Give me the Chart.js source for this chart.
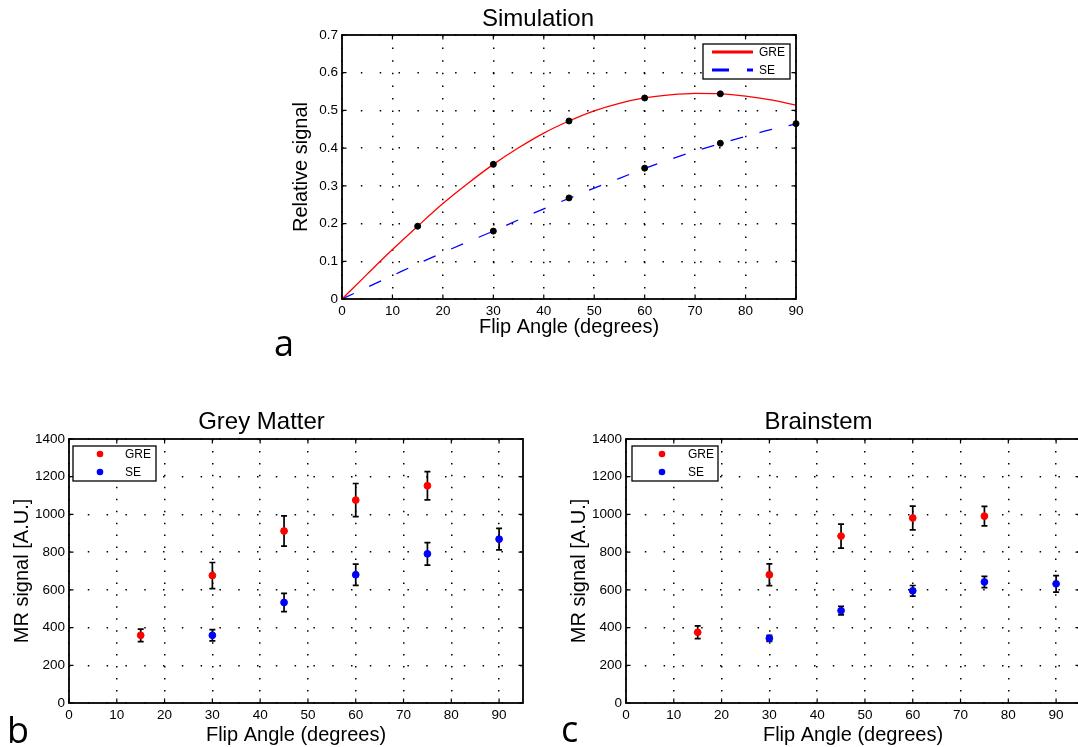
<!DOCTYPE html>
<html><head><meta charset="utf-8">
<script src="https://cdn.jsdelivr.net/npm/chart.js@4.4.1/dist/chart.umd.min.js"></script>
<style>
html,body{margin:0;padding:0;background:#fff;overflow:hidden;}
#wrap{position:relative;width:1078px;height:747px;overflow:hidden;background:#fff;}
canvas{position:absolute;}
.lbl{position:absolute;font-family:"Open Sans",sans-serif;font-size:36px;line-height:36px;color:#000;}
</style></head><body>
<div id="wrap">
<canvas id="cSim" width="536" height="345" style="left:280px;top:0px"></canvas>
<canvas id="cGM" width="543" height="360" style="left:0px;top:390px"></canvas>
<canvas id="cBS" width="543" height="360" style="left:557px;top:390px"></canvas>
<div class="lbl" style="left:274px;top:325px">a</div>
<div class="lbl" style="left:7px;top:712px">b</div>
<div class="lbl" style="left:561px;top:711px">c</div>
</div>
<script>
// ---------------- DATA ----------------
// Simulation curves (read every 5 degrees)
const simAngles = [0,5,10,15,20,25,30,35,40,45,50,55,60,65,70,75,80,85,90];
const simGRE    = [0,0.066,0.131,0.193,0.253,0.307,0.357,0.401,0.440,0.472,0.499,0.519,0.533,0.541,0.545,0.544,0.538,0.528,0.514];
const simSE     = [0,0.031,0.062,0.093,0.123,0.152,0.180,0.210,0.239,0.267,0.294,0.320,0.346,0.370,0.392,0.412,0.431,0.449,0.464];
// Simulation markers
const simMarkAnglesGRE = [15,30,45,60,75];
const simMarkGRE       = [0.193,0.357,0.472,0.533,0.544];
const simMarkAnglesSE  = [30,45,60,75,90];
const simMarkSE        = [0.180,0.268,0.347,0.413,0.465];

// Grey Matter
const gmAnglesGRE = [15,30,45,60,75];
const gmGRE       = [359,676,912,1076,1152];
const gmGREerr    = [33,69,80,88,75];
const gmAnglesSE  = [30,45,60,75,90];
const gmSE        = [359,533,680,791,869];
const gmSEerr     = [30,48,56,60,57];

// Brainstem
const bsAnglesGRE = [15,30,45,60,75];
const bsGRE       = [375,680,885,981,991];
const bsGREerr    = [34,58,64,63,52];
const bsAnglesSE  = [30,45,60,75,90];
const bsSE        = [343,490,595,642,632];
const bsSEerr     = [16,23,28,30,44];

// Tick values / labels
const simXTicks = [0,10,20,30,40,50,60,70,80,90];
const simXLabels = ['0','10','20','30','40','50','60','70','80','90'];
const simYTicks = [0,0.1,0.2,0.3,0.4,0.5,0.6,0.7];
const simYLabels = ['0','0.1','0.2','0.3','0.4','0.5','0.6','0.7'];
const mrXTicks = [0,10,20,30,40,50,60,70,80,90];
const mrXLabels = ['0','10','20','30','40','50','60','70','80','90'];
const mrYTicks = [0,200,400,600,800,1000,1200,1400];
const mrYLabels = ['0','200','400','600','800','1000','1200','1400'];

const seriesNames = ['GRE','SE'];

// ---------------- HELPERS ----------------
const FONT = '"Liberation Sans", Arial, Helvetica, sans-serif';
Chart.defaults.color = '#000';
Chart.defaults.font.family = FONT;

const pts = (xs, ys) => xs.map((x, i) => ({x: x, y: ys[i]}));

const framePlugin = {
  id: 'frame',
  beforeDatasetsDraw(chart) {
    const ctx = chart.ctx, xs = chart.scales.x, ys = chart.scales.y;
    chart.data.datasets.forEach(ds => {
      if (!ds.errors) return;
      ctx.save();
      ctx.strokeStyle = '#000';
      ctx.lineWidth = 1.7;
      ds.data.forEach((p, j) => {
        const e = ds.errors[j];
        const x = xs.getPixelForValue(p.x);
        const yt = ys.getPixelForValue(p.y + e);
        const yb = ys.getPixelForValue(p.y - e);
        ctx.beginPath();
        ctx.moveTo(x, yt); ctx.lineTo(x, yb);
        ctx.moveTo(x - 3, yt); ctx.lineTo(x + 3, yt);
        ctx.moveTo(x - 3, yb); ctx.lineTo(x + 3, yb);
        ctx.stroke();
      });
      ctx.restore();
    });
  },
  afterDraw(chart, args, opts) {
    const ctx = chart.ctx, a = chart.chartArea;
    const xs = chart.scales.x, ys = chart.scales.y;
    ctx.save();
    ctx.strokeStyle = '#000';
    ctx.lineWidth = 1.2;
    ctx.beginPath();
    xs.ticks.forEach(t => {
      const x = xs.getPixelForValue(t.value);
      ctx.moveTo(x, a.bottom); ctx.lineTo(x, a.bottom - 4.5);
      ctx.moveTo(x, a.top); ctx.lineTo(x, a.top + 4.5);
    });
    ys.ticks.forEach(t => {
      const y = ys.getPixelForValue(t.value);
      ctx.moveTo(a.left, y); ctx.lineTo(a.left + 4.5, y);
      ctx.moveTo(a.right, y); ctx.lineTo(a.right - 4.5, y);
    });
    ctx.stroke();
    ctx.lineWidth = 1.8;
    ctx.strokeRect(a.left, a.top, a.right - a.left, a.bottom - a.top);

    // legend box
    const L = opts.legend;
    if (L) {
      const bx = L.fromRight ? a.right - L.dx : a.left + L.dx;
      const by = a.top + L.dy;
      ctx.fillStyle = '#fff';
      ctx.fillRect(bx, by, L.w, L.h);
      ctx.lineWidth = 1.3;
      ctx.strokeStyle = '#000';
      ctx.strokeRect(bx, by, L.w, L.h);
      ctx.font = '12px ' + FONT;
      ctx.textBaseline = 'middle';
      ctx.textAlign = 'left';
      L.items.forEach((it, i) => {
        const y = by + L.rowY[i];
        if (it.kind === 'dot') {
          ctx.fillStyle = it.color;
          ctx.beginPath();
          ctx.arc(bx + L.symX, y, 3.3, 0, Math.PI * 2);
          ctx.fill();
        } else {
          ctx.strokeStyle = it.color;
          ctx.lineWidth = 3;
          ctx.setLineDash(it.dash || []);
          ctx.beginPath();
          ctx.moveTo(bx + L.symX, y);
          ctx.lineTo(bx + L.symX2, y);
          ctx.stroke();
          ctx.setLineDash([]);
        }
        ctx.fillStyle = '#000';
        ctx.fillText(it.label, bx + L.textX, y + 0.5);
      });
    }
    ctx.restore();
  }
};
Chart.register(framePlugin);

function axisX(min, max, tickVals, tickLabels, fitH, titlePadBottom, dashPeriod) {
  return {
    type: 'linear', min: min, max: max,
    afterBuildTicks: s => { s.ticks = tickVals.map(v => ({value: v})); },
    afterFit: s => { s.height = fitH; },
    ticks: { callback: (v, i) => tickLabels[i], font: {size: 13.5, family: FONT}, color: '#000', padding: 4, maxRotation: 0, autoSkip: false },
    grid: { color: '#000', lineWidth: 1.5, drawTicks: false },
    border: { display: false, dash: [1.5, dashPeriod - 1.5] },
    title: { display: true, text: 'Flip Angle (degrees)', font: {size: 20, family: FONT}, color: '#000', padding: {top: 0, bottom: titlePadBottom} }
  };
}
function axisY(min, max, tickVals, tickLabels, fitW, titleText, titlePadTop, dashPeriod) {
  return {
    type: 'linear', min: min, max: max,
    afterBuildTicks: s => { s.ticks = tickVals.map(v => ({value: v})); },
    afterFit: s => { s.width = fitW; },
    ticks: { callback: (v, i) => tickLabels[i], font: {size: 13.5, family: FONT}, color: '#000', padding: 4, autoSkip: false },
    grid: { color: '#000', lineWidth: 1.5, drawTicks: false },
    border: { display: false, dash: [1.5, dashPeriod - 1.5] },
    title: { display: true, text: titleText, font: {size: 20, family: FONT}, color: '#000', padding: {top: titlePadTop, bottom: 0} }
  };
}

// ---------------- SIMULATION ----------------
new Chart(document.getElementById('cSim'), {
  type: 'scatter',
  data: {
    datasets: [
      { type: 'line', label: seriesNames[0], data: pts(simAngles, simGRE), borderColor: '#ff0000', borderWidth: 1.3, pointRadius: 0, cubicInterpolationMode: 'monotone', fill: false, order: 3 },
      { type: 'line', label: seriesNames[1], data: pts(simAngles, simSE), borderColor: '#0000ff', borderWidth: 1.3, borderDash: [13, 17], pointRadius: 0, cubicInterpolationMode: 'monotone', fill: false, order: 3 },
      { label: 'GRE markers', data: pts(simMarkAnglesGRE, simMarkGRE), backgroundColor: '#000', borderColor: '#000', pointRadius: 3, clip: false, order: 1 },
      { label: 'SE markers', data: pts(simMarkAnglesSE, simMarkSE), backgroundColor: '#000', borderColor: '#000', pointRadius: 3, clip: false, order: 1 }
    ]
  },
  options: {
    responsive: false, animation: false, events: [],
    layout: { padding: { left: 0, right: 20, top: 0, bottom: 0 } },
    scales: {
      x: axisX(0, 90, simXTicks, simXLabels, 46, 6, 12.6),
      y: axisY(0, 0.7, simYTicks, simYLabels, 62, 'Relative signal', 9, 18.85)
    },
    plugins: {
      legend: { display: false },
      tooltip: { enabled: false },
      title: { display: true, text: 'Simulation', font: {size: 24, family: FONT, weight: 'normal'}, color: '#000', padding: {top: 4.5, bottom: 1.7} },
      frame: { legend: { fromRight: true, dx: 93, dy: 9, w: 87, h: 35, symX: 9, symX2: 50, textX: 56, rowY: [8, 26],
        items: [ {label: seriesNames[0], color: '#ff0000', kind: 'line'}, {label: seriesNames[1], color: '#0000ff', kind: 'line', dash: [17, 18]} ] } }
    }
  }
});

// ---------------- MR charts ----------------
function mrChart(id, title, aG, vG, eG, aS, vS, eS, leg) {
  new Chart(document.getElementById(id), {
    type: 'scatter',
    data: {
      datasets: [
        { label: seriesNames[0], data: pts(aG, vG), errors: eG, backgroundColor: '#ff0000', borderColor: '#ff0000', pointRadius: 3.4, clip: false },
        { label: seriesNames[1], data: pts(aS, vS), errors: eS, backgroundColor: '#0000ff', borderColor: '#0000ff', pointRadius: 3.4, clip: false }
      ]
    },
    options: {
      responsive: false, animation: false, events: [],
      layout: { padding: { left: 0, right: 20, top: 0, bottom: 0 } },
      scales: {
        x: axisX(0, 95, mrXTicks, mrXLabels, 47, 3, 11.95),
        y: axisY(0, 1400, mrYTicks, mrYLabels, 69, 'MR signal [A.U.]', 10, 18.8)
      },
      plugins: {
        legend: { display: false },
        tooltip: { enabled: false },
        title: { display: true, text: title, font: {size: 24, family: FONT, weight: 'normal'}, color: '#000', padding: {top: 17.5, bottom: 2.7} },
        frame: { legend: leg }
      }
    }
  });
}
mrChart('cGM', 'Grey Matter', gmAnglesGRE, gmGRE, gmGREerr, gmAnglesSE, gmSE, gmSEerr,
  { fromRight: false, dx: 4, dy: 7, w: 83, h: 35, symX: 27, textX: 52, rowY: [8, 26],
    items: [ {label: seriesNames[0], color: '#ff0000', kind: 'dot'}, {label: seriesNames[1], color: '#0000ff', kind: 'dot'} ] });
mrChart('cBS', 'Brainstem', bsAnglesGRE, bsGRE, bsGREerr, bsAnglesSE, bsSE, bsSEerr,
  { fromRight: false, dx: 6, dy: 7, w: 86, h: 35, symX: 30, textX: 56, rowY: [8, 26],
    items: [ {label: seriesNames[0], color: '#ff0000', kind: 'dot'}, {label: seriesNames[1], color: '#0000ff', kind: 'dot'} ] });
</script>
</body></html>
